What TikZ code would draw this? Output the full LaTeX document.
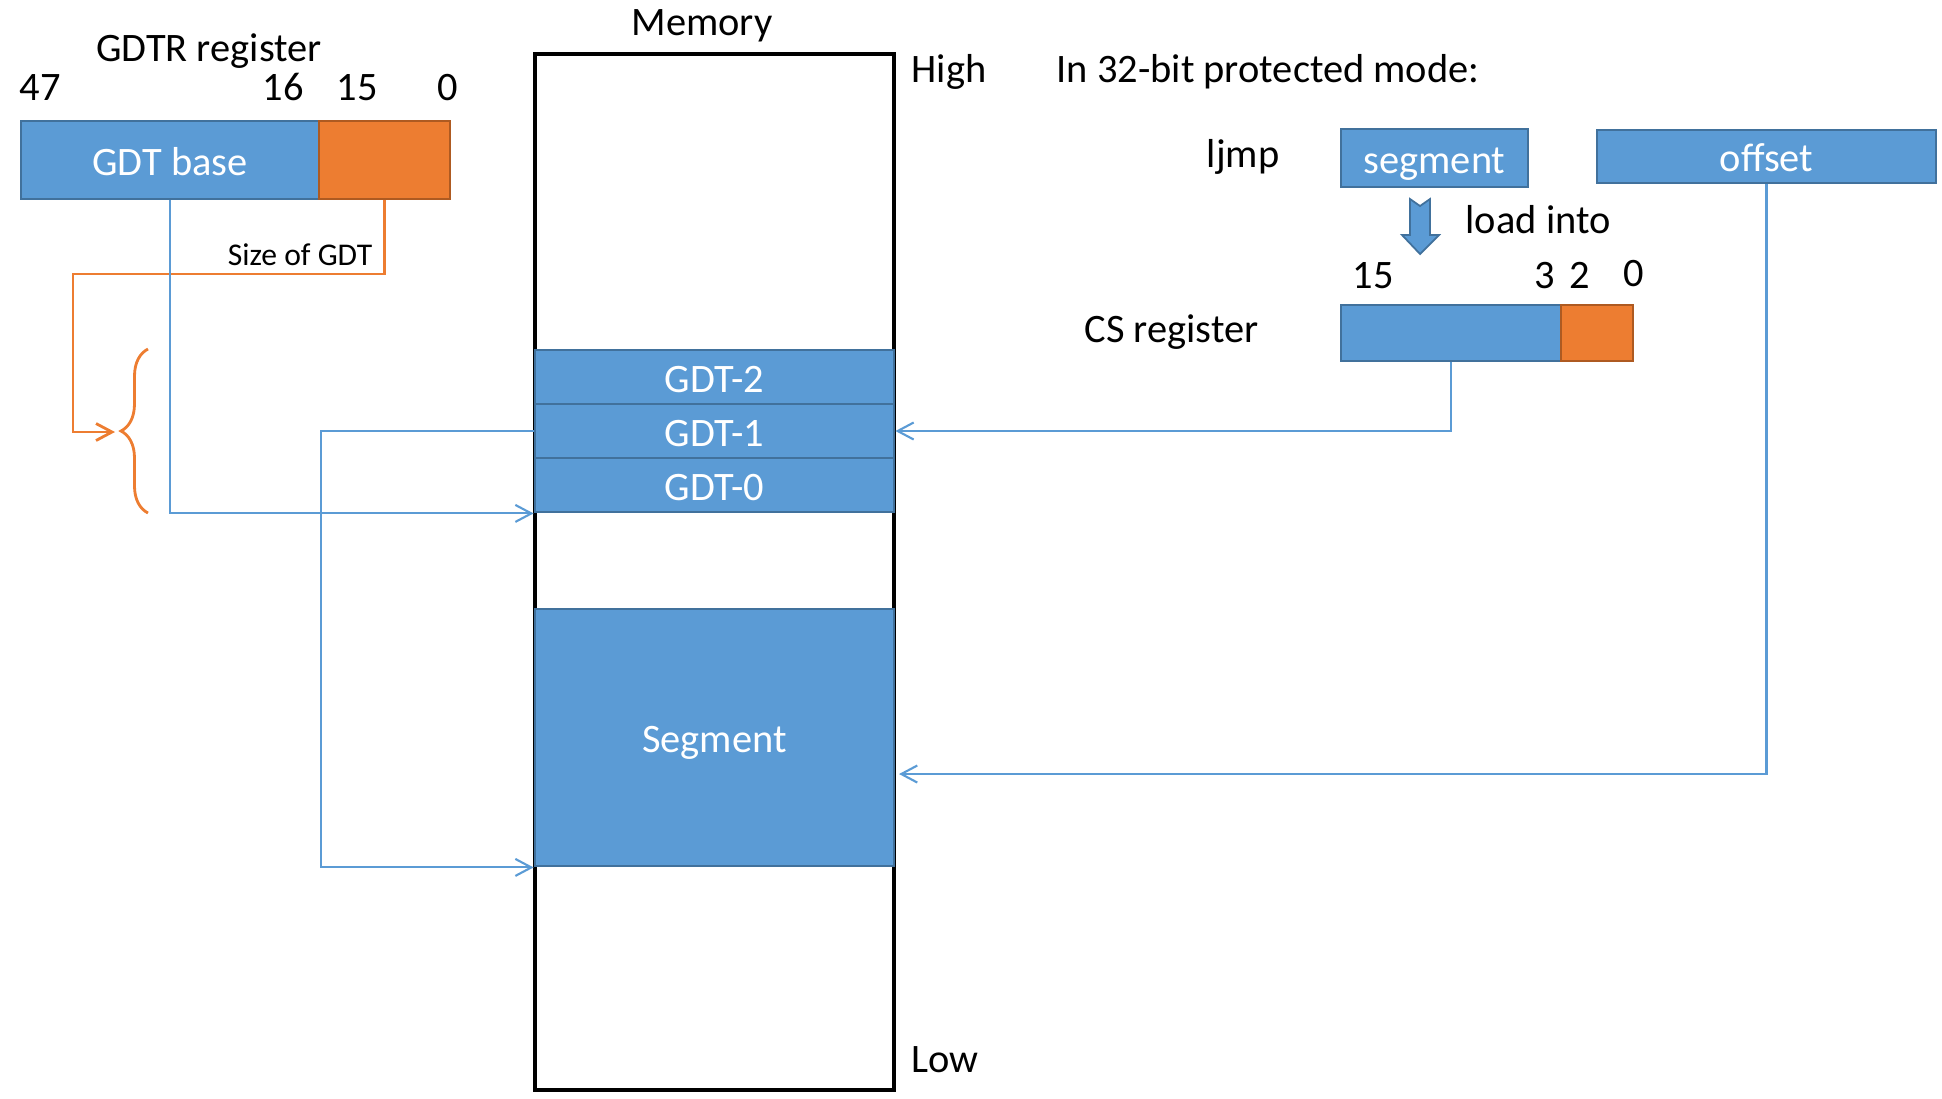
\documentclass[tikz,border=0pt]{standalone}
\usepackage{fontspec}
\setmainfont{Carlito}
\usepackage{tikz}
\usetikzlibrary{arrows.meta,decorations.pathreplacing}
\definecolor{regblue}{HTML}{5B9BD5}
\definecolor{regblueline}{HTML}{41719C}
\definecolor{regorange}{HTML}{ED7D31}
\definecolor{regorangeline}{HTML}{AE5A21}

\begin{document}
\begin{tikzpicture} [ x=0.1mm, y=-0.1mm, inner sep=0pt,
    font=\fontsize{11.5}{13}\selectfont,
    bluebox/.style={draw=regblueline, fill=regblue, line width=0.8pt, text=white,
        text height=1.8ex, text depth=0pt},
    orangebox/.style={draw=regorangeline, fill=regorange, line width=0.8pt},
    link/.style={draw=regblue, line width=0.6pt, -{Straight Barb[length=1.6mm,width=1.7mm]}},
    sizelink/.style={draw=regorange, line width=0.8pt, -{Straight Barb[length=1.6mm,width=1.7mm]}},
    ]
    \useasboundingbox (0,0) rectangle (1942,1098);

    % memory column
    \node[draw, line width=0.9pt, minimum width=35.9mm, minimum height=103.6mm] (mem) at (714.5,572) {};
    \node[anchor=base] (memlabel) at (702,35) {Memory};
    \node[anchor=base west] (high) at (911,82) {High};
    \node[anchor=base west] (low) at (911,1072) {Low};
    \node[bluebox, minimum width=35.9mm, minimum height=5.4mm] (gdt2) at (714.5,377) {GDT-2};
    \node[bluebox, minimum width=35.9mm, minimum height=5.4mm] (gdt1) at (714.5,431) {GDT-1};
    \node[bluebox, minimum width=35.9mm, minimum height=5.4mm] (gdt0) at (714.5,485) {GDT-0};
    \node[bluebox, minimum width=35.9mm, minimum height=25.7mm] (seg) at (714.5,737.5) {Segment};

    % GDTR
    \node[anchor=base] (gdtrlabel) at (209,61) {GDTR register};
    \node[anchor=base] (b47) at (40,100) {47};
    \node[anchor=base] (b16) at (283,100) {16};
    \node[anchor=base] (b15) at (357,100) {15};
    \node[anchor=base] (b0) at (448,100) {0};
    \node[bluebox, minimum width=29.8mm, minimum height=7.8mm] (base) at (170,160) {GDT base};
    \node[orangebox, minimum width=13.1mm, minimum height=7.8mm] (size) at (384.5,160) {};
    \node[anchor=base east, font=\fontsize{9}{11}\selectfont] (sizelabel) at (373,265) {Size of GDT};

    % ljmp and CS
    \node[anchor=base west] (mode) at (1056,82) {In 32-bit protected mode:};
    \node[anchor=base east] (ljmp) at (1280,167) {ljmp};
    \node[bluebox, minimum width=18.7mm, minimum height=5.8mm] (segbox) at (1434.5,158) {segment};
    \node[bluebox, minimum width=33.9mm, minimum height=5.3mm] (offbox) at (1766.5,156.5) {offset};
    \fill[regblue, draw=regblueline, line width=0.5pt] (1410,199) -- (1420,206) -- (1430,199) -- (1430,235)
        -- (1439,235) -- (1420,254) -- (1402,235) -- (1410,235) -- cycle;
    \node[anchor=base west] (loadinto) at (1465,233) {load into};
    \node[anchor=base] (c15) at (1373,288) {15};
    \node[anchor=base] (c3) at (1545,288) {3};
    \node[anchor=base] (c2) at (1580,288) {2};
    \node[anchor=base] (c0) at (1634,286) {0};
    \node[anchor=base west] (cslabel) at (1084,342) {CS register};
    \node[bluebox, minimum width=22mm, minimum height=5.6mm] (cssel) at (1451,333) {};
    \node[orangebox, minimum width=7.2mm, minimum height=5.6mm] (csrpl) at (1597,333) {};

    % connectors
    \coordinate (sizeturn) at (73,274);
    \coordinate (bracetip) at (115,432);
    \coordinate (segturn) at (321,0);
    \coordinate (offtip) at (899,774);
    \draw[regorange, line width=0.8pt, decorate, decoration={brace, amplitude=2.7mm}] (148,513) -- (148,349);
    \draw[sizelink] (size.south) |- (sizeturn) |- (bracetip);
    \draw[link] (base.south) |- (gdt0.south west);
    \draw[link] (gdt1.west) -- (gdt1.west -| segturn) |- (seg.south west);
    \draw[link] (cssel.south) |- (gdt1.east);
    \draw[link] (offbox.south) |- (offtip);

\end{tikzpicture}
\end{document}
